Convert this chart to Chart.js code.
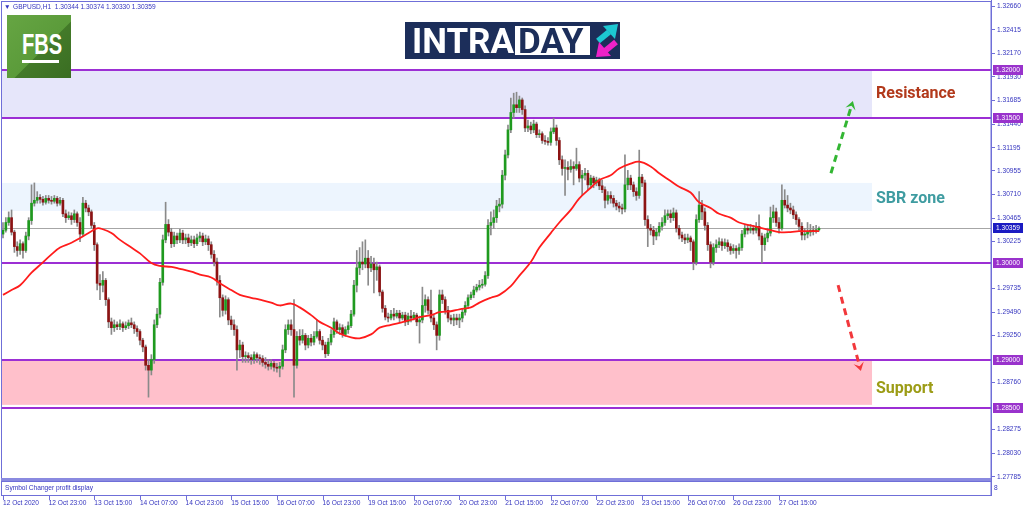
<!DOCTYPE html>
<html>
<head>
<meta charset="utf-8">
<title>GBPUSD H1 - Intraday</title>
<script src="https://cdn.jsdelivr.net/npm/chart.js@4.4.0/dist/chart.umd.min.js"></script>
<style>
  body { margin: 0; background: #fff; }
  #wrap { position: relative; width: 1024px; height: 511px; overflow: hidden; }
  #chart { position: absolute; left: 0; top: 0; }
  #fbs { position: absolute; left: 7px; top: 15px; width: 64px; height: 63px;
    background: linear-gradient(135deg, #66a543 0%, #5b9b3a 55%, #437a29 56%, #3a6d22 100%); overflow: hidden; }
  #fbs span { position: absolute; left: 15px; top: 14px; font: bold 30px 'Liberation Sans', Arial, sans-serif;
    color: #fff; line-height: 1; transform: scaleX(0.67); transform-origin: 0 0; }
  #fbs i { position: absolute; left: 15px; top: 45px; width: 37px; height: 3px; background: #fff; }
  #intraday { position: absolute; left: 405px; top: 22px; width: 215px; height: 37px; background: #1c2e5a; }
  #intraday .intra { position: absolute; left: 7px; top: 2px; font: bold 35px Roboto, sans-serif; color: #fff; line-height: 1; }
  #intraday .day { position: absolute; left: 110px; top: 4px; width: 75px; height: 29px; background: #fff; overflow: hidden; }
  #intraday .day span { position: absolute; left: 3px; top: -2px; font: bold 35px Roboto, sans-serif; color: #1c2e5a; line-height: 1; }
  #intraday svg { position: absolute; left: 189px; top: 0; }
</style>
</head>
<body>
<div id="wrap">
  <canvas id="chart" width="1024" height="511"></canvas>
  <div id="fbs"><span>FBS</span><i></i></div>
  <div id="intraday">
    <span class="intra">INTRA</span>
    <div class="day"><span>DAY</span></div>
    <svg width="26" height="37">
      <line x1="4" y1="19" x2="15" y2="10" stroke="#1cc7d2" stroke-width="6"/>
      <polygon points="9,4 24,2 21,17" fill="#1cc7d2"/>
      <line x1="22" y1="20" x2="11" y2="29" stroke="#ee22c9" stroke-width="6"/>
      <polygon points="17,34 2,35 5,20" fill="#ee22c9"/>
    </svg>
  </div>
</div>
<script>
// time axis labels, one every 16 hourly bars
var timeLabels = ['12 Oct 2020', '12 Oct 23:00', '13 Oct 15:00', '14 Oct 07:00', '14 Oct 23:00', '15 Oct 15:00',
  '16 Oct 07:00', '16 Oct 23:00', '19 Oct 15:00', '20 Oct 07:00', '20 Oct 23:00', '21 Oct 15:00',
  '22 Oct 07:00', '22 Oct 23:00', '23 Oct 15:00', '26 Oct 07:00', '26 Oct 23:00', '27 Oct 15:00'];

var opens = [
  1.3030,1.3034,1.3042,1.3047,1.3032,1.3017,1.3013,1.3020,1.3013,1.3028,
  1.3044,1.3062,1.3065,1.3068,1.3066,1.3063,1.3067,1.3065,1.3064,1.3067,
  1.3062,1.3065,1.3051,1.3047,1.3049,1.3045,1.3051,1.3042,1.3030,1.3062,
  1.3057,1.3053,1.3039,1.3019,1.2979,1.2977,1.2982,1.2962,1.2939,1.2933,
  1.2936,1.2934,1.2937,1.2933,1.2935,1.2938,1.2936,1.2932,1.2929,1.2920,
  1.2913,1.2894,1.2889,1.2900,1.2936,1.2947,1.2980,1.3024,1.3040,1.3032,
  1.3020,1.3028,1.3024,1.3031,1.3024,1.3026,1.3021,1.3024,1.3020,1.3026,
  1.3028,1.3022,1.3025,1.3019,1.3009,1.3001,1.2982,1.2964,1.2951,1.2962,
  1.2941,1.2936,1.2931,1.2910,1.2915,1.2903,1.2904,1.2902,1.2900,1.2905,
  1.2902,1.2901,1.2897,1.2895,1.2893,1.2896,1.2892,1.2891,1.2893,1.2910,
  1.2931,1.2936,1.2931,1.2894,1.2924,1.2920,1.2925,1.2915,1.2922,1.2918,
  1.2924,1.2929,1.2920,1.2915,1.2906,1.2918,1.2926,1.2939,1.2931,1.2933,
  1.2926,1.2931,1.2935,1.2947,1.2977,1.2995,1.3001,1.2999,1.3005,1.2995,
  1.2999,1.2993,1.2996,1.2970,1.2953,1.2944,1.2943,1.2947,1.2945,1.2948,
  1.2943,1.2946,1.2939,1.2945,1.2943,1.2946,1.2939,1.2941,1.2956,1.2962,
  1.2951,1.2943,1.2936,1.2925,1.2967,1.2962,1.2951,1.2943,1.2941,1.2943,
  1.2941,1.2943,1.2949,1.2956,1.2964,1.2967,1.2972,1.2975,1.2977,1.2978,
  1.2987,1.3039,1.3042,1.3047,1.3059,1.3061,1.3091,1.3112,1.3138,1.3156,
  1.3164,1.3161,1.3169,1.3159,1.3140,1.3142,1.3138,1.3144,1.3133,1.3134,
  1.3127,1.3126,1.3125,1.3136,1.3140,1.3127,1.3107,1.3098,1.3099,1.3097,
  1.3100,1.3098,1.3102,1.3088,1.3091,1.3093,1.3081,1.3088,1.3083,1.3086,
  1.3080,1.3076,1.3065,1.3070,1.3067,1.3062,1.3059,1.3057,1.3056,1.3081,
  1.3088,1.3081,1.3074,1.3070,1.3089,1.3083,1.3045,1.3036,1.3034,1.3028,
  1.3032,1.3038,1.3042,1.3049,1.3051,1.3047,1.3052,1.3036,1.3029,1.3026,
  1.3024,1.3026,1.3022,1.3001,1.3045,1.3060,1.3053,1.3039,1.3019,1.3001,
  1.3016,1.3019,1.3022,1.3018,1.3021,1.3017,1.3013,1.3015,1.3013,1.3016,
  1.3030,1.3036,1.3034,1.3036,1.3034,1.3038,1.3028,1.3019,1.3026,1.3031,
  1.3047,1.3053,1.3042,1.3036,1.3065,1.3060,1.3057,1.3055,1.3050,1.3045,
  1.3038,1.3029,1.3030,1.3032,1.3034,1.3033,1.30344
];
var highs = [
  1.3042,1.3047,1.3053,1.3055,1.3034,1.3022,1.3024,1.3022,1.3032,1.3047,
  1.3081,1.3083,1.3074,1.3071,1.3069,1.3070,1.3070,1.3069,1.3070,1.3069,
  1.3068,1.3067,1.3055,1.3053,1.3052,1.3055,1.3053,1.3047,1.3068,1.3065,
  1.3060,1.3055,1.3042,1.3021,1.2988,1.2991,1.2984,1.2964,1.2943,1.2941,
  1.2939,1.2941,1.2939,1.2939,1.2941,1.2943,1.2939,1.2935,1.2931,1.2922,
  1.2915,1.2900,1.2905,1.2941,1.2953,1.2984,1.3029,1.3063,1.3045,1.3036,
  1.3032,1.3031,1.3035,1.3034,1.3030,1.3030,1.3028,1.3028,1.3030,1.3032,
  1.3031,1.3029,1.3028,1.3022,1.3013,1.3005,1.2987,1.2967,1.2966,1.2964,
  1.2945,1.2941,1.2935,1.2920,1.2918,1.2908,1.2907,1.2905,1.2908,1.2907,
  1.2905,1.2904,1.2902,1.2900,1.2900,1.2898,1.2896,1.2897,1.2915,1.2936,
  1.2941,1.2941,1.2962,1.2929,1.2931,1.2931,1.2927,1.2925,1.2926,1.2929,
  1.2941,1.2931,1.2924,1.2918,1.2922,1.2931,1.2943,1.2941,1.2937,1.2936,
  1.2934,1.2939,1.2951,1.2982,1.3013,1.3016,1.3022,1.3024,1.3013,1.3007,
  1.3005,1.3001,1.2998,1.2972,1.2956,1.2948,1.2951,1.2953,1.2951,1.2951,
  1.2949,1.2949,1.2948,1.2951,1.2949,1.2948,1.2945,1.2975,1.2967,1.2965,
  1.2972,1.2946,1.2939,1.2972,1.2972,1.2965,1.2955,1.2946,1.2947,1.2947,
  1.2947,1.2953,1.2960,1.2967,1.2970,1.2976,1.2978,1.2982,1.2983,1.2991,
  1.3045,1.3053,1.3055,1.3065,1.3067,1.3096,1.3117,1.3143,1.3171,1.3176,
  1.3177,1.3173,1.3171,1.3163,1.3148,1.3146,1.3148,1.3146,1.3138,1.3136,
  1.3132,1.3130,1.3140,1.3150,1.3143,1.3130,1.3111,1.3107,1.3105,1.3107,
  1.3105,1.3119,1.3105,1.3096,1.3098,1.3096,1.3091,1.3090,1.3089,1.3088,
  1.3086,1.3079,1.3074,1.3074,1.3070,1.3065,1.3063,1.3061,1.3112,1.3096,
  1.3091,1.3084,1.3078,1.3117,1.3092,1.3086,1.3049,1.3040,1.3038,1.3036,
  1.3042,1.3047,1.3055,1.3055,1.3055,1.3057,1.3055,1.3039,1.3032,1.3030,
  1.3030,1.3028,1.3024,1.3050,1.3074,1.3065,1.3057,1.3042,1.3022,1.3020,
  1.3024,1.3026,1.3025,1.3025,1.3024,1.3020,1.3019,1.3018,1.3020,1.3034,
  1.3040,1.3040,1.3040,1.3039,1.3042,1.3050,1.3031,1.3030,1.3036,1.3058,
  1.3060,1.3057,1.3047,1.3081,1.3076,1.3070,1.3062,1.3059,1.3053,1.3047,
  1.3042,1.3036,1.3042,1.3040,1.3038,1.3039,1.30374
];
var lows = [
  1.3026,1.3032,1.3039,1.3029,1.3011,1.3007,1.3009,1.3005,1.3011,1.3024,
  1.3040,1.3059,1.3062,1.3062,1.3060,1.3061,1.3062,1.3061,1.3062,1.3059,
  1.3060,1.3048,1.3042,1.3045,1.3040,1.3042,1.3038,1.3022,1.3028,1.3053,
  1.3049,1.3036,1.3013,1.2972,1.2962,1.2970,1.2956,1.2933,1.2926,1.2929,
  1.2931,1.2931,1.2929,1.2931,1.2932,1.2933,1.2927,1.2924,1.2915,1.2908,
  1.2889,1.2861,1.2884,1.2896,1.2933,1.2943,1.2977,1.3021,1.3028,1.3016,
  1.3017,1.3020,1.3021,1.3020,1.3020,1.3017,1.3018,1.3016,1.3018,1.3022,
  1.3018,1.3019,1.3013,1.3005,1.2997,1.2977,1.2944,1.2945,1.2947,1.2936,
  1.2931,1.2925,1.2889,1.2902,1.2897,1.2897,1.2897,1.2895,1.2896,1.2897,
  1.2895,1.2893,1.2891,1.2889,1.2890,1.2888,1.2887,1.2882,1.2890,1.2907,
  1.2926,1.2925,1.2861,1.2891,1.2915,1.2917,1.2910,1.2912,1.2914,1.2915,
  1.2922,1.2916,1.2910,1.2902,1.2904,1.2915,1.2923,1.2927,1.2926,1.2923,
  1.2924,1.2927,1.2933,1.2945,1.2970,1.2988,1.2993,1.2995,1.2977,1.2991,
  1.2969,1.2982,1.2966,1.2949,1.2941,1.2939,1.2941,1.2941,1.2943,1.2939,
  1.2941,1.2935,1.2936,1.2939,1.2941,1.2935,1.2917,1.2938,1.2949,1.2947,
  1.2939,1.2931,1.2910,1.2920,1.2958,1.2947,1.2939,1.2937,1.2935,1.2936,
  1.2933,1.2939,1.2946,1.2953,1.2962,1.2964,1.2970,1.2972,1.2974,1.2976,
  1.2984,1.3029,1.3036,1.3042,1.3053,1.3057,1.3086,1.3109,1.3135,1.3150,
  1.3156,1.3156,1.3154,1.3136,1.3136,1.3134,1.3135,1.3130,1.3130,1.3124,
  1.3123,1.3122,1.3122,1.3134,1.3122,1.3102,1.3091,1.3070,1.3086,1.3094,
  1.3081,1.3096,1.3084,1.3070,1.3086,1.3076,1.3078,1.3078,1.3080,1.3076,
  1.3073,1.3057,1.3061,1.3062,1.3058,1.3055,1.3053,1.3051,1.3053,1.3076,
  1.3076,1.3069,1.3065,1.3067,1.3079,1.3039,1.3017,1.3029,1.3019,1.3024,
  1.3028,1.3034,1.3039,1.3045,1.3042,1.3044,1.3032,1.3025,1.3022,1.3020,
  1.3021,1.3013,1.2993,1.2998,1.3042,1.3045,1.3034,1.3013,1.2995,1.2998,
  1.3011,1.3016,1.3013,1.3015,1.3012,1.3009,1.3010,1.3005,1.3009,1.3013,
  1.3027,1.3030,1.3031,1.3030,1.3031,1.3024,1.3000,1.3013,1.3022,1.3028,
  1.3042,1.3038,1.3031,1.3034,1.3057,1.3053,1.3051,1.3046,1.3040,1.3034,
  1.3024,1.3024,1.3026,1.3028,1.3029,1.3031,1.30330
];
var closes = [
  1.3034,1.3042,1.3047,1.3032,1.3017,1.3013,1.3020,1.3013,1.3028,1.3044,
  1.3062,1.3065,1.3068,1.3066,1.3063,1.3067,1.3065,1.3064,1.3067,1.3062,
  1.3065,1.3051,1.3047,1.3049,1.3045,1.3051,1.3042,1.3030,1.3062,1.3057,
  1.3053,1.3039,1.3019,1.2979,1.2977,1.2982,1.2962,1.2939,1.2933,1.2936,
  1.2934,1.2937,1.2933,1.2935,1.2938,1.2936,1.2932,1.2929,1.2920,1.2913,
  1.2894,1.2889,1.2900,1.2936,1.2947,1.2980,1.3024,1.3040,1.3032,1.3020,
  1.3028,1.3024,1.3031,1.3024,1.3026,1.3021,1.3024,1.3020,1.3026,1.3028,
  1.3022,1.3025,1.3019,1.3009,1.3001,1.2982,1.2964,1.2951,1.2962,1.2941,
  1.2936,1.2931,1.2910,1.2915,1.2903,1.2904,1.2902,1.2900,1.2905,1.2902,
  1.2901,1.2897,1.2895,1.2893,1.2896,1.2892,1.2891,1.2893,1.2910,1.2931,
  1.2936,1.2931,1.2894,1.2924,1.2920,1.2925,1.2915,1.2922,1.2918,1.2924,
  1.2929,1.2920,1.2915,1.2906,1.2918,1.2926,1.2939,1.2931,1.2933,1.2926,
  1.2931,1.2935,1.2947,1.2977,1.2995,1.3001,1.2999,1.3005,1.2995,1.2999,
  1.2993,1.2996,1.2970,1.2953,1.2944,1.2943,1.2947,1.2945,1.2948,1.2943,
  1.2946,1.2939,1.2945,1.2943,1.2946,1.2939,1.2941,1.2956,1.2962,1.2951,
  1.2943,1.2936,1.2925,1.2967,1.2962,1.2951,1.2943,1.2941,1.2943,1.2941,
  1.2943,1.2949,1.2956,1.2964,1.2967,1.2972,1.2975,1.2977,1.2978,1.2987,
  1.3039,1.3042,1.3047,1.3059,1.3061,1.3091,1.3112,1.3138,1.3156,1.3164,
  1.3161,1.3169,1.3159,1.3140,1.3142,1.3138,1.3144,1.3133,1.3134,1.3127,
  1.3126,1.3125,1.3136,1.3140,1.3127,1.3107,1.3098,1.3099,1.3097,1.3100,
  1.3098,1.3102,1.3088,1.3091,1.3093,1.3081,1.3088,1.3083,1.3086,1.3080,
  1.3076,1.3065,1.3070,1.3067,1.3062,1.3059,1.3057,1.3056,1.3081,1.3088,
  1.3081,1.3074,1.3070,1.3089,1.3083,1.3045,1.3036,1.3034,1.3028,1.3032,
  1.3038,1.3042,1.3049,1.3051,1.3047,1.3052,1.3036,1.3029,1.3026,1.3024,
  1.3026,1.3022,1.3001,1.3045,1.3060,1.3053,1.3039,1.3019,1.3001,1.3016,
  1.3019,1.3022,1.3018,1.3021,1.3017,1.3013,1.3015,1.3013,1.3016,1.3030,
  1.3036,1.3034,1.3036,1.3034,1.3038,1.3028,1.3019,1.3026,1.3031,1.3047,
  1.3053,1.3042,1.3036,1.3065,1.3060,1.3057,1.3055,1.3050,1.3045,1.3038,
  1.3029,1.3030,1.3032,1.3034,1.3033,1.30344,1.30359
];

// moving average, read at these bar numbers
var maBars = [0,3,6,10,13,17,20,24,27,31,33,35,38,41,45,48,52,55,59,62,66,69,73,76,80,83,87,90,94,97,
  101,104,108,111,115,118,122,125,129,132,136,139,143,146,150,153,157,160,164,167,171,174,178,181,185,188,
  192,195,199,202,206,209,213,216,220,223,227,230,234,237,241,244,248,251,255,258,262,265,269,272,276,279,283,286];
var maValues = [1.2967,1.2972,1.2977,1.2990,1.2998,1.3009,1.3016,1.3021,1.3026,1.3033,1.3036,1.3035,1.3031,1.3024,
  1.3016,1.3010,1.3000,1.2997,1.2996,1.2994,1.2991,1.2988,1.2985,1.2979,1.2972,1.2967,1.2964,1.2962,1.2959,1.2956,
  1.2958,1.2954,1.2946,1.2939,1.2933,1.2927,1.2923,1.2922,1.2926,1.2933,1.2936,1.2938,1.2941,1.2944,1.2946,1.2949,
  1.2950,1.2952,1.2954,1.2959,1.2964,1.2967,1.2976,1.2987,1.3001,1.3016,1.3031,1.3042,1.3055,1.3067,1.3078,1.3086,
  1.3091,1.3098,1.3103,1.3105,1.3100,1.3093,1.3085,1.3079,1.3073,1.3063,1.3057,1.3051,1.3047,1.3042,1.3039,1.3037,
  1.3034,1.3032,1.3032,1.3033,1.3033,1.3033];

var yTickValues = [1.32660, 1.32415, 1.32170, 1.31930, 1.31685, 1.31440, 1.31195, 1.30955, 1.30710, 1.30465,
  1.30225, 1.29735, 1.29490, 1.29250, 1.28760, 1.28275, 1.28030, 1.27785];

var levelPrices = [1.32000, 1.31500, 1.30000, 1.29000, 1.28500];
var lastPrice = 1.30359;
var resistanceZone = [1.3150, 1.3200];
var sbrZone = [1.3054, 1.3083];
var supportZone = [1.2853, 1.2900];
var zoneEndBar = 304.6;
var notes = ['Resistance', 'SBR zone', 'Support'];
var notePrices = [1.3175, 1.3066, 1.2869];
var noteBar = 306;
var arrowUp = [290.2, 1.3093, 297.9, 1.3168];
var arrowDown = [292.7, 1.2977, 300.7, 1.2888];

var frameColor = '#6f6fd8';
var textColor = '#3434bf';
var smallFont = '6.6px "Liberation Sans", Arial, sans-serif';

var bodyColors = closes.map(function (c, i) { return c >= opens[i] ? '#1f9a1f' : '#8c1313'; });

function drawArrow(ctx, x1, y1, x2, y2, color) {
  var a = Math.atan2(y2 - y1, x2 - x1);
  ctx.save();
  ctx.strokeStyle = color;
  ctx.lineWidth = 3;
  ctx.setLineDash([7, 5]);
  ctx.beginPath();
  ctx.moveTo(x1, y1);
  ctx.lineTo(x2 - 4 * Math.cos(a), y2 - 4 * Math.sin(a));
  ctx.stroke();
  ctx.setLineDash([]);
  ctx.fillStyle = color;
  ctx.beginPath();
  ctx.moveTo(x2, y2);
  ctx.lineTo(x2 - 10 * Math.cos(a - 0.55), y2 - 10 * Math.sin(a - 0.55));
  ctx.lineTo(x2 - 5 * Math.cos(a), y2 - 5 * Math.sin(a));
  ctx.lineTo(x2 - 10 * Math.cos(a + 0.55), y2 - 10 * Math.sin(a + 0.55));
  ctx.closePath();
  ctx.fill();
  ctx.restore();
}

var overlay = {
  id: 'overlay',
  beforeDatasetsDraw: function (chart) {
    var ctx = chart.ctx, xs = chart.scales.x, ys = chart.scales.y, area = chart.chartArea;
    var xEnd = xs.getPixelForValue(zoneEndBar);
    function zone(z, color) {
      var top = ys.getPixelForValue(z[1]), bot = ys.getPixelForValue(z[0]);
      ctx.fillStyle = color;
      ctx.fillRect(area.left, top, xEnd - area.left, bot - top);
    }
    ctx.save();
    zone(resistanceZone, '#e6e6fa');
    zone(sbrZone, '#edf5fe');
    zone(supportZone, '#ffc0cb');
    // current price line
    var py = Math.round(ys.getPixelForValue(lastPrice)) + 0.5;
    ctx.strokeStyle = '#a6a6a6';
    ctx.lineWidth = 1;
    ctx.beginPath(); ctx.moveTo(area.left, py); ctx.lineTo(area.right, py); ctx.stroke();
    ctx.strokeStyle = '#9c2fd4';
    ctx.lineWidth = 2;
    levelPrices.forEach(function (p) {
      var y = Math.round(ys.getPixelForValue(p));
      ctx.beginPath(); ctx.moveTo(area.left, y); ctx.lineTo(area.right, y); ctx.stroke();
    });
    ctx.restore();
  },
  afterDatasetsDraw: function (chart) {
    var ctx = chart.ctx, xs = chart.scales.x, ys = chart.scales.y;
    drawArrow(ctx, xs.getPixelForValue(arrowUp[0]), ys.getPixelForValue(arrowUp[1]),
      xs.getPixelForValue(arrowUp[2]), ys.getPixelForValue(arrowUp[3]), '#33b633');
    drawArrow(ctx, xs.getPixelForValue(arrowDown[0]), ys.getPixelForValue(arrowDown[1]),
      xs.getPixelForValue(arrowDown[2]), ys.getPixelForValue(arrowDown[3]), '#f2383c');
    var colors = ['#b2391b', '#3f9ca1', '#9c9c16'];
    ctx.save();
    ctx.font = 'bold 16px Roboto, sans-serif';
    ctx.textBaseline = 'middle';
    notes.forEach(function (t, k) {
      ctx.fillStyle = colors[k];
      ctx.fillText(t, xs.getPixelForValue(noteBar), ys.getPixelForValue(notePrices[k]));
    });
    ctx.restore();
  },
  afterDraw: function (chart) {
    var ctx = chart.ctx, xs = chart.scales.x, ys = chart.scales.y, area = chart.chartArea;
    ctx.save();
    // window frame and the small sub window below
    ctx.strokeStyle = frameColor;
    ctx.lineWidth = 1;
    ctx.strokeRect(1.5, 1.5, area.right - 1.5, area.bottom - 1);
    ctx.fillStyle = '#8a8ae0';
    ctx.fillRect(1, area.bottom, area.right - 1, 3);
    ctx.strokeRect(1.5, area.bottom + 3.5, area.right - 1.5, 14);
    ctx.beginPath(); ctx.moveTo(area.right + 0.5, 0); ctx.lineTo(area.right + 0.5, 496); ctx.stroke();
    xs.ticks.forEach(function (t) {
      var x = Math.round(xs.getPixelForValue(t.value)) + 0.5;
      ctx.beginPath(); ctx.moveTo(x, 496); ctx.lineTo(x, 500); ctx.stroke();
    });
    ctx.font = smallFont;
    ctx.textBaseline = 'middle';
    ctx.fillStyle = textColor;
    ctx.fillText('Symbol Changer profit display', 5, 488);
    ctx.fillText('8', 994, 488);
    ctx.fillText('\u25BC', 4, 7.5);
    ctx.fillText('GBPUSD,H1  1.30344 1.30374 1.30330 1.30359', 13, 7.5);
    // price boxes on the right axis
    function box(p, color) {
      var y = Math.round(ys.getPixelForValue(p));
      ctx.fillStyle = color;
      ctx.fillRect(area.right + 2, y - 5, 30, 10);
      ctx.fillStyle = '#fff';
      ctx.fillText(p.toFixed(5), area.right + 5, y + 0.5);
    }
    levelPrices.forEach(function (p) { box(p, '#9932cc'); });
    box(lastPrice, '#1b1bc2');
    ctx.restore();
  }
};

var ctx = document.getElementById('chart');
var chart = new Chart(ctx, {
  type: 'bar',
  data: {
    datasets: [
      {
        type: 'line',
        label: 'MA',
        data: maBars.map(function (b, k) { return { x: b, y: maValues[k] }; }),
        borderColor: '#ff1c1c',
        borderWidth: 1.8,
        pointRadius: 0,
        tension: 0.4,
        order: 0
      },
      {
        label: 'body',
        data: closes.map(function (c, i) { return { x: i, y: [opens[i], c] }; }),
        backgroundColor: bodyColors,
        barThickness: 2,
        minBarLength: 1,
        grouped: false,
        order: 1
      },
      {
        label: 'wick',
        data: lows.map(function (l, i) { return { x: i, y: [l, highs[i]] }; }),
        backgroundColor: '#8a8a8a',
        barThickness: 1,
        grouped: false,
        order: 2
      }
    ]
  },
  options: {
    responsive: false,
    animation: false,
    devicePixelRatio: 1,
    layout: { padding: { left: 2, top: 2, right: 0, bottom: 0 } },
    plugins: { legend: { display: false }, tooltip: { enabled: false } },
    scales: {
      x: {
        type: 'linear',
        min: -0.35,
        max: 346.3,
        offset: false,
        grid: { display: false, drawTicks: false },
        border: { display: false },
        afterBuildTicks: function (s) {
          s.ticks = timeLabels.map(function (t, k) { return { value: k * 16 }; });
        },
        afterFit: function (s) { s.height = 33; s.paddingLeft = 0; s.paddingRight = 0; },
        ticks: {
          autoSkip: false, maxRotation: 0, minRotation: 0, align: 'start', padding: 21,
          color: textColor, font: { family: '"Liberation Sans", Arial, sans-serif', size: 6.6 },
          callback: function (v, i) { return timeLabels[i]; }
        }
      },
      y: {
        position: 'right',
        min: 1.27772,
        max: 1.32705,
        afterBuildTicks: function (s) {
          s.ticks = yTickValues.map(function (v) { return { value: v }; });
        },
        afterFit: function (s) { s.width = 33; s.paddingTop = 0; s.paddingBottom = 0; },
        grid: { drawOnChartArea: false, tickLength: 4, color: frameColor },
        border: { color: frameColor },
        ticks: {
          padding: 2, color: textColor,
          font: { family: '"Liberation Sans", Arial, sans-serif', size: 6.6 },
          callback: function (v) { return v.toFixed(5); }
        }
      }
    }
  },
  plugins: [overlay]
});
</script>
</body>
</html>
